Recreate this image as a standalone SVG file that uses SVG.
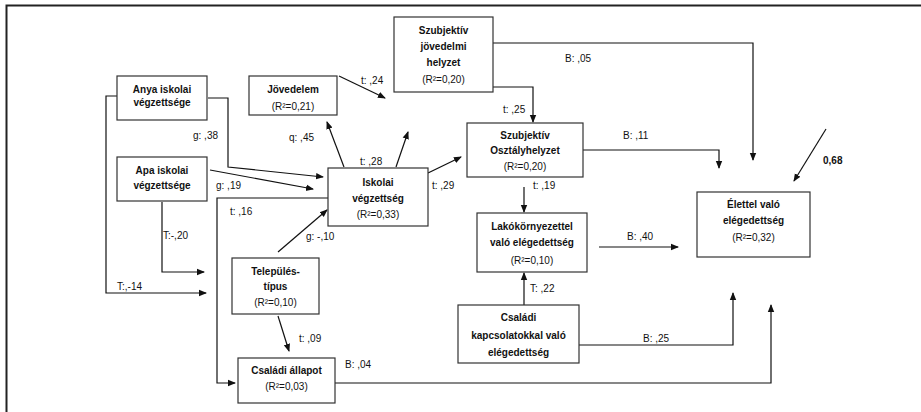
<svg xmlns="http://www.w3.org/2000/svg" width="921" height="412" viewBox="0 0 921 412">
<defs>
<marker id="ah" markerWidth="8" markerHeight="8" refX="7" refY="4" orient="auto" markerUnits="userSpaceOnUse"><path d="M0,0.8 L8,4 L0,7.2 Z" fill="#111"/></marker>
</defs>
<style>
.box{fill:#fff;stroke:#333;stroke-width:1.2}
.t{font-family:"Liberation Sans",Arial,sans-serif;font-size:10px;fill:#111;text-anchor:middle}
.b{font-weight:bold}
.c{fill:none;stroke:#111;stroke-width:1.2}
.a{marker-end:url(#ah)}
.lb{font-family:"Liberation Sans",Arial,sans-serif;font-size:10px;fill:#111}
</style>
<rect width="921" height="412" fill="#fff"/>
<path d="M6.5 412 V5.5 H921" fill="none" stroke="#222" stroke-width="2"/>
<g id="connectors">
<path class="c a" d="M208 98 H228 V167 L323 177"/>
<path class="c a" d="M210 170 L313 189"/>
<path class="c a" d="M339 76 L385 98"/>
<path class="c a" d="M344 167 L327 122"/>
<path class="c a" d="M396 167 L408 132"/>
<path class="c a" d="M328 198 H217 V383 H235"/>
<path class="c a" d="M162 202 V272 H204"/>
<path class="c a" d="M117 96 H106 V293 H206"/>
<path class="c a" d="M278 252 L327 210"/>
<path class="c a" d="M278 316 L289 351"/>
<path class="c a" d="M335 383 H771 V305"/>
<path class="c a" d="M493 43 H753 V160"/>
<path class="c a" d="M493 87 H533 V122"/>
<path class="c a" d="M583 150 H719 V168"/>
<path class="c a" d="M428 173 L461 157"/>
<path class="c a" d="M524 187 V212"/>
<path class="c a" d="M599 247 H678"/>
<path class="c a" d="M524 305 V273"/>
<path class="c a" d="M579 345 H733 V293"/>
<path class="c a" d="M826 129 L794 181"/>
<text class="lb" x="193" y="139">g: ,38</text>
<text class="lb" x="216" y="189">g: ,19</text>
<text class="lb" x="361" y="84">t: ,24</text>
<text class="lb" x="289" y="141">q: ,45</text>
<text class="lb" x="360" y="165">t: ,28</text>
<text class="lb" x="230" y="215">t: ,16</text>
<text class="lb" x="163" y="239">T:-,20</text>
<text class="lb" x="117" y="290">T:,-14</text>
<text class="lb" x="306" y="240">g: -,10</text>
<text class="lb" x="299" y="342">t: ,09</text>
<text class="lb" x="345" y="368">B: ,04</text>
<text class="lb" x="565" y="62">B: ,05</text>
<text class="lb" x="503" y="113">t: ,25</text>
<text class="lb" x="623" y="139">B: ,11</text>
<text class="lb" x="432" y="189">t: ,29</text>
<text class="lb" x="533" y="189">t: ,19</text>
<text class="lb" x="627" y="240">B: ,40</text>
<text class="lb" x="530" y="292">T: ,22</text>
<text class="lb" x="643" y="342">B: ,25</text>
<text class="lb b" x="823" y="164">0,68</text>
</g>
<g id="anya">
<rect class="box" x="117" y="76" width="90" height="44"/>
<text class="t b" x="162" y="93">Anya iskolai</text>
<text class="t b" x="162" y="106">végzettsége</text>
</g>
<g id="apa">
<rect class="box" x="117" y="157" width="90" height="44"/>
<text class="t b" x="162" y="174">Apa iskolai</text>
<text class="t b" x="162" y="189">végzettsége</text>
</g>
<g id="jovedelem">
<rect class="box" x="249" y="76" width="88" height="39"/>
<text class="t b" x="293" y="93">Jövedelem</text>
<text class="t" x="293" y="110">(R²=0,21)</text>
</g>
<g id="iskolai">
<rect class="box" x="328" y="168" width="100" height="58"/>
<text class="t b" x="378" y="186">Iskolai</text>
<text class="t b" x="378" y="202">végzettség</text>
<text class="t" x="378" y="218">(R²=0,33)</text>
</g>
<g id="telepules">
<rect class="box" x="232" y="258" width="87" height="56"/>
<text class="t b" x="275.5" y="275">Település-</text>
<text class="t b" x="275.5" y="290">típus</text>
<text class="t" x="275.5" y="306">(R²=0,10)</text>
</g>
<g id="csaladi-allapot">
<rect class="box" x="238" y="358" width="97" height="45"/>
<text class="t b" x="286.5" y="374">Családi állapot</text>
<text class="t" x="286.5" y="390">(R²=0,03)</text>
</g>
<g id="szubj-jov">
<rect class="box" x="394" y="17" width="99" height="75"/>
<text class="t b" x="443.5" y="34">Szubjektív</text>
<text class="t b" x="443.5" y="50">jövedelmi</text>
<text class="t b" x="443.5" y="66">helyzet</text>
<text class="t" x="443.5" y="83">(R²=0,20)</text>
</g>
<g id="szubj-oszt">
<rect class="box" x="467" y="123" width="116" height="54"/>
<text class="t b" x="525" y="139">Szubjektív</text>
<text class="t b" x="525" y="154">Osztályhelyzet</text>
<text class="t" x="525" y="170">(R²=0,20)</text>
</g>
<g id="lakokorny">
<rect class="box" x="477" y="213" width="110" height="59"/>
<text class="t b" x="532" y="230">Lakókörnyezettel</text>
<text class="t b" x="532" y="246">való elégedettség</text>
<text class="t" x="532" y="264">(R²=0,10)</text>
</g>
<g id="csaladi-kapcs">
<rect class="box" x="458" y="305" width="121" height="58"/>
<text class="t b" x="518.5" y="321">Családi</text>
<text class="t b" x="518.5" y="339">kapcsolatokkal való</text>
<text class="t b" x="518.5" y="356">elégedettség</text>
</g>
<g id="elettel">
<rect class="box" x="697" y="192" width="113" height="65"/>
<text class="t b" x="753.5" y="208">Élettel való</text>
<text class="t b" x="753.5" y="224">elégedettség</text>
<text class="t" x="753.5" y="241">(R²=0,32)</text>
</g>
</svg>
